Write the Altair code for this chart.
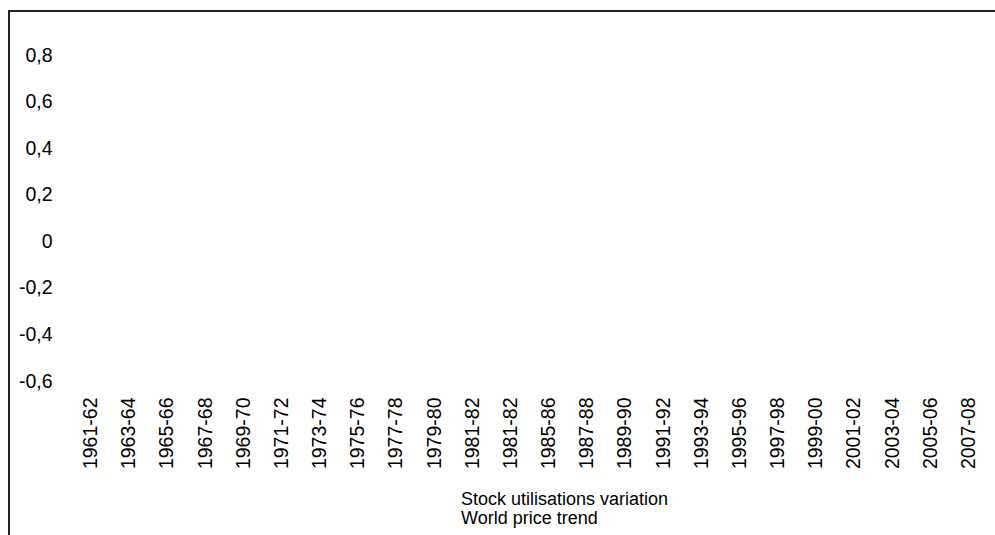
import altair as alt
import pandas as pd

# Campaign periods (x categories) -- "1981-82" appears twice in the original
periods = ["1961-62", "1963-64", "1965-66", "1967-68", "1969-70", "1971-72",
           "1973-74", "1975-76", "1977-78", "1979-80", "1981-82", "1981-82",
           "1985-86", "1987-88", "1989-90", "1991-92", "1993-94", "1995-96",
           "1997-98", "1999-00", "2001-02", "2003-04", "2005-06", "2007-08"]

# Series (no values are drawn in the reference)
series_names = ["Stock utilisations variation", "World price trend"]
stock_variation = [None, None, None, None, None, None, None, None, None, None, None, None,
                   None, None, None, None, None, None, None, None, None, None, None, None]
price_trend = [None, None, None, None, None, None, None, None, None, None, None, None,
               None, None, None, None, None, None, None, None, None, None, None, None]

y_ticks = [-0.6, -0.4, -0.2, 0, 0.2, 0.4, 0.6, 0.8]

rows = []
for i, p in enumerate(periods):
    rows.append({"slot": i, "period": p, "series": series_names[0], "value": stock_variation[i]})
    rows.append({"slot": i, "period": p, "series": series_names[1], "value": price_trend[i]})
df = pd.DataFrame(rows)

FONT = "Liberation Sans"
label_array = "[" + ",".join("'" + p + "'" for p in periods) + "]"

base = alt.Chart(df)

lines = base.mark_line().encode(
    x=alt.X("slot:O",
            scale=alt.Scale(type="band", domain=list(range(len(periods))),
                            paddingInner=0, paddingOuter=0),
            axis=alt.Axis(title=None, labelAngle=270, labelAlign="right",
                          labelBaseline="middle", labelExpr=label_array + "[datum.value]",
                          labelFont=FONT, labelFontSize=19.5, labelColor="#000",
                          labelPadding=16, ticks=False, tickSize=0, domain=False,
                          grid=False, labelOverlap=False)),
    y=alt.Y("value:Q",
            scale=alt.Scale(domain=[-0.6, 0.8], nice=False, zero=False),
            axis=alt.Axis(title=None, values=y_ticks,
                          labelExpr="datum.value == 0 ? '0' : (datum.value < 0 ? '-' : '') + replace(format(abs(datum.value), '.1f'), '.', ',')",
                          labelFont=FONT, labelFontSize=19.5, labelColor="#000",
                          labelPadding=20, ticks=False, tickSize=0, domain=False,
                          grid=False, labelOverlap=False)),
    color=alt.Color("series:N",
                    scale=alt.Scale(domain=series_names, range=["#000080", "#ff00ff"]),
                    legend=alt.Legend(title=None, orient="none", legendX=371, legendY=436,
                                      direction="vertical", symbolSize=0, symbolOpacity=0,
                                      symbolStrokeWidth=0, labelOffset=0, padding=0,
                                      rowPadding=1, labelFont=FONT, labelFontSize=18,
                                      labelColor="#000", labelLimit=400)),
)

frame_top = alt.Chart(pd.DataFrame({"k": [0]})).mark_rule(color="#222", strokeWidth=2).encode(
    x=alt.value(-64), x2=alt.value(935), y=alt.value(-44))
frame_left = alt.Chart(pd.DataFrame({"k": [0]})).mark_rule(color="#222", strokeWidth=2).encode(
    x=alt.value(-63), y=alt.value(-45), y2=alt.value(490))

chart = alt.layer(lines, frame_top, frame_left).properties(
    width=916, height=326,
    background="white",
    autosize=alt.AutoSizeParams(type="none"),
    padding={"left": 72, "top": 55, "right": 7, "bottom": 154},
).configure_view(stroke=None, strokeWidth=0)

chart.save("out.html", embed_options={"renderer": "svg", "actions": False})
